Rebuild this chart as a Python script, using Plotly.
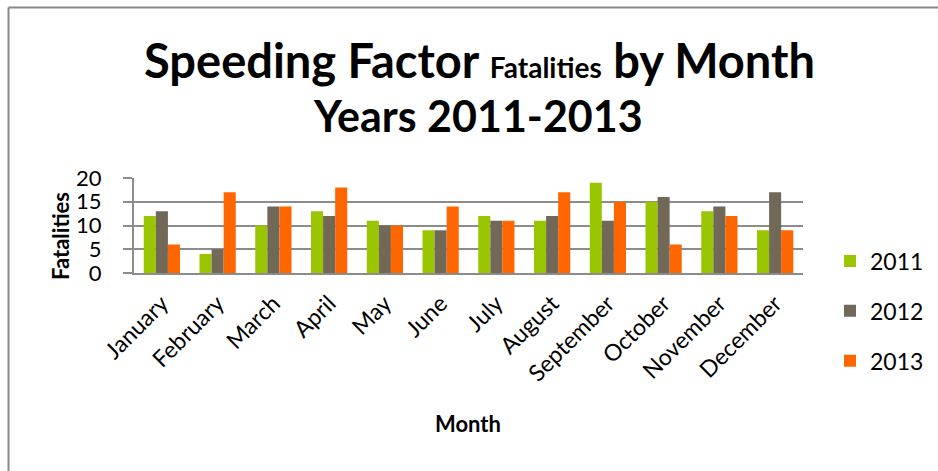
import plotly.graph_objects as go

months = ["January", "February", "March", "April", "May", "June",
          "July", "August", "September", "October", "November", "December"]
fat_2011 = [12, 4, 10, 13, 11, 9, 12, 11, 19, 15, 13, 9]
fat_2012 = [13, 5, 14, 12, 10, 9, 11, 12, 11, 16, 14, 17]
fat_2013 = [6, 17, 14, 18, 10, 14, 11, 17, 15, 6, 12, 9]
years = ["2011", "2012", "2013"]
colors = ["#99C600", "#716858", "#FF6600"]

W, H = 938, 471
ML, MR, MT, MB = 134, 135, 178, 198
PW = W - ML - MR
PH = H - MT - MB


def px_x(p):
    return (p - ML) / PW


def px_y(p):
    return (H - MB - p) / PH


FONT = "Lato"
fig = go.Figure()
for name, vals, col in zip(years, [fat_2011, fat_2012, fat_2013], colors):
    fig.add_trace(go.Bar(
        x=months, y=vals, name=name, legendgroup=name,
        marker=dict(color=col, line=dict(width=0)),
    ))

fig.update_layout(
    width=W, height=H,
    margin=dict(l=ML, r=MR, t=MT, b=MB, autoexpand=False),
    paper_bgcolor="white", plot_bgcolor="white",
    barmode="group", bargap=0.35, bargroupgap=0,
    font=dict(family=FONT, color="black"),
    showlegend=True,
    legend=dict(x=px_x(830), y=px_y(311), xanchor="left", yanchor="middle",
                font=dict(size=23, family=FONT), tracegroupgap=17,
                itemwidth=30, maxheight=1, bgcolor="rgba(0,0,0,0)"),
    xaxis=dict(
        automargin=False,
        tickangle=-45, tickfont=dict(size=23, family=FONT),
        ticklabelstandoff=6,
        showgrid=False, showline=True, linecolor="#8C8C8C", linewidth=2,
        ticks="",
    ),
    yaxis=dict(
        automargin=False,
        range=[0, 20], dtick=5, tickfont=dict(size=22, family=FONT),
        ticklabelstandoff=17,
        showgrid=True, gridcolor="#8C8C8C", gridwidth=2,
        showline=True, linecolor="#8C8C8C", linewidth=2,
        ticks="outside", ticklen=9, tickcolor="#8C8C8C", tickwidth=2,
        zeroline=False,
    ),
    annotations=[
        dict(text="<b>Speeding Factor <span style='font-size:28px'>Fatalities</span> by Month</b>",
             xref="paper", yref="paper", x=px_x(479), y=px_y(60),
             xanchor="center", yanchor="middle", showarrow=False,
             font=dict(size=47, family=FONT)),
        dict(text="<b>Years 2011-2013</b>",
             xref="paper", yref="paper", x=px_x(478), y=px_y(115),
             xanchor="center", yanchor="middle", showarrow=False,
             font=dict(size=43, family=FONT)),
        dict(text="<b>Fatalities</b>", textangle=-90,
             xref="paper", yref="paper", x=px_x(60), y=px_y(236),
             xanchor="center", yanchor="middle", showarrow=False,
             font=dict(size=22, family=FONT)),
        dict(text="<b>Month</b>",
             xref="paper", yref="paper", x=px_x(468), y=px_y(423),
             xanchor="center", yanchor="middle", showarrow=False,
             font=dict(size=22, family=FONT)),
    ],
    shapes=[
        dict(type="line", xref="paper", yref="paper",
             x0=px_x(8.5), x1=px_x(W), y0=px_y(7.5), y1=px_y(7.5),
             line=dict(color="#888888", width=2)),
        dict(type="line", xref="paper", yref="paper",
             x0=px_x(8.5), x1=px_x(8.5), y0=px_y(7.5), y1=px_y(H),
             line=dict(color="#888888", width=2)),
    ],
)

fig.write_html("out.html")
